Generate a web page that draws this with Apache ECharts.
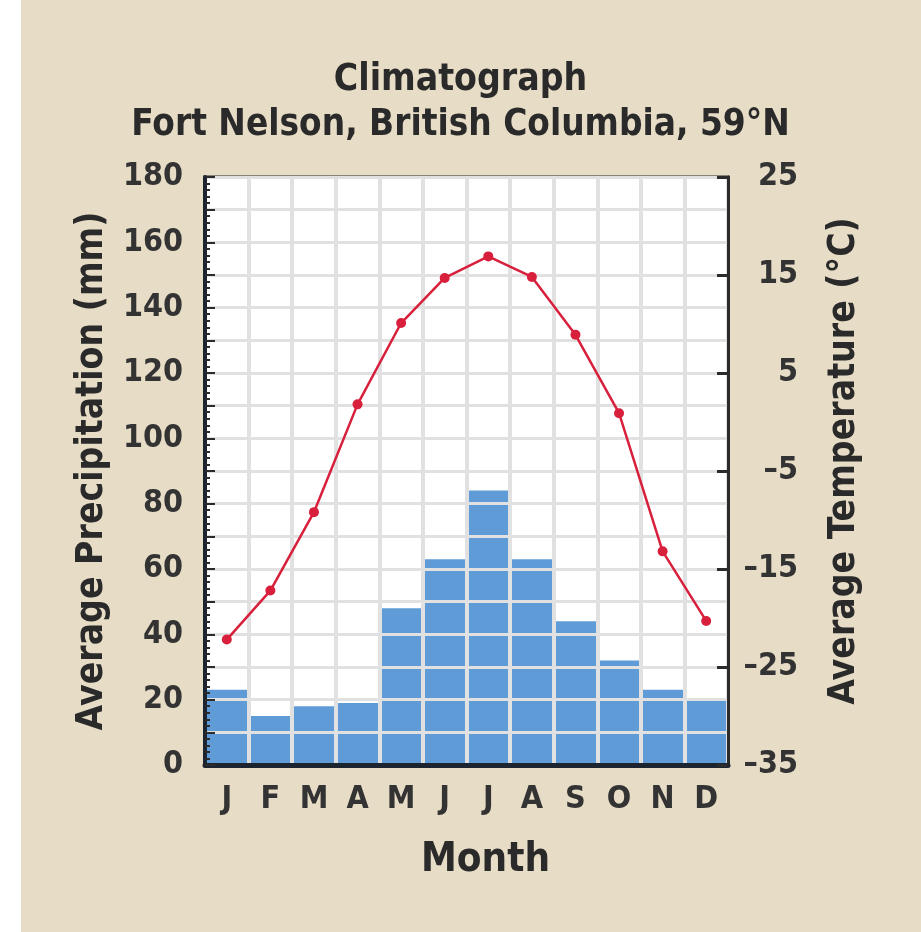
<!DOCTYPE html>
<html>
<head>
<meta charset="utf-8">
<script src="https://cdn.jsdelivr.net/npm/echarts@6/dist/echarts.min.js"></script>
<style>
html,body{margin:0;padding:0;background:#ffffff;}
#chart{width:921px;height:932px;}
</style>
</head>
<body>
<div id="chart"></div>
<script>
const months = ['J','F','M','A','M','J','J','A','S','O','N','D'];
const precipitation = [23, 15, 18, 19, 48, 63, 84, 63, 44, 32, 23, 20];
const temperature = [-22.2, -17.2, -9.2, 1.8, 10.1, 14.7, 16.9, 14.8, 8.9, 0.9, -13.2, -20.3];
const precipTicks = [0, 20, 40, 60, 80, 100, 120, 140, 160, 180];
const tempTicks = [-35, -25, -15, -5, 5, 15, 25];

const FONT = "'DejaVu Sans Condensed', 'DejaVu Sans', sans-serif";
const dark = '#2b2b2b';
const textCol = '#2a2a2a';
const gridCol = '#e1e1e1';

const chart = echarts.init(document.getElementById('chart'), null, {renderer: 'canvas'});
chart.setOption({
  backgroundColor: '#ffffff',
  animation: false,
  graphic: [{
    type: 'rect', z: -10, silent: true,
    shape: {x: 21, y: 0, width: 900, height: 932},
    style: {fill: '#e7dcc6'}
  }],
  title: [
    {text: 'Climatograph', left: 'center', top: 62, padding: [0, 0, 0, 10],
     textStyle: {fontFamily: FONT, fontWeight: 'bold', fontSize: 37, color: textCol, lineHeight: 37}},
    {text: 'Fort Nelson, British Columbia, 59°N', left: 'center', top: 107, padding: [0, 0, 0, 12],
     textStyle: {fontFamily: FONT, fontWeight: 'bold', fontSize: 36.6, color: textCol, lineHeight: 37}}
  ],
  grid: {left: 205, right: 193, top: 177, bottom: 167, show: true,
         backgroundColor: '#ffffff', borderColor: dark, borderWidth: 3},
  xAxis: {
    type: 'category', data: months, z: 3,
    boundaryGap: true,
    name: 'Month', nameLocation: 'middle', nameGap: 76,
    nameTextStyle: {fontFamily: FONT, fontWeight: 'bold', fontSize: 40, color: textCol, padding: [0, 0, 0, 38]},
    axisLine: {show: true, lineStyle: {color: '#1c2430', width: 5}},
    axisTick: {show: false},
    axisLabel: {fontFamily: FONT, fontWeight: 'bold', fontSize: 32, color: '#333', margin: 19, interval: 0},
    splitLine: {show: true, interval: 0, lineStyle: {color: gridCol, width: 4}}
  },
  yAxis: [{
    type: 'value', min: precipTicks[0], max: precipTicks[precipTicks.length - 1], interval: 10, z: 3,
    name: 'Average Precipitation (mm)', nameLocation: 'middle', nameGap: 94, nameRotate: 90,
    nameTextStyle: {fontFamily: FONT, fontWeight: 'bold', fontSize: 37, color: textCol},
    axisLine: {show: true, lineStyle: {color: '#1c2430', width: 4}},
    axisTick: {show: true, inside: true, length: 10, lineStyle: {color: dark, width: 2}},
    minorTick: {show: true, splitNumber: 5, length: 5, lineStyle: {color: dark, width: 2}},
    axisLabel: {fontFamily: FONT, fontWeight: 'bold', fontSize: 32, color: '#333', margin: 22,
      formatter: v => precipTicks.indexOf(v) >= 0 ? String(v) : ''},
    splitLine: {show: true, lineStyle: {color: gridCol, width: 3}}
  }, {
    type: 'value', position: 'right', min: tempTicks[0], max: tempTicks[tempTicks.length - 1], interval: 10, z: 3,
    name: 'Average Temperature (°C)', nameLocation: 'middle', nameGap: 98, nameRotate: 90,
    nameTextStyle: {fontFamily: FONT, fontWeight: 'bold', fontSize: 37, color: textCol, padding: [0, 0, 0, 20]},
    axisLine: {show: true, lineStyle: {color: dark, width: 3}},
    axisTick: {show: true, inside: true, length: 11, lineStyle: {color: dark, width: 3}},
    axisLabel: {fontFamily: FONT, fontWeight: 'bold', fontSize: 32, color: '#333', margin: 70, align: 'right',
      formatter: v => v < 0 ? '\u2013' + Math.abs(v) : String(v)},
    splitLine: {show: false}
  }],
  series: [{
    type: 'bar', data: precipitation, yAxisIndex: 0, z: 2,
    barCategoryGap: '0%',
    itemStyle: {color: '#5f9bd7'}
  }, {
    type: 'line', data: temperature, yAxisIndex: 1, z: 10,
    symbol: 'circle', symbolSize: 10,
    lineStyle: {color: '#d8203c', width: 2.5},
    itemStyle: {color: '#d8203c'}
  }]
});
</script>
</body>
</html>
